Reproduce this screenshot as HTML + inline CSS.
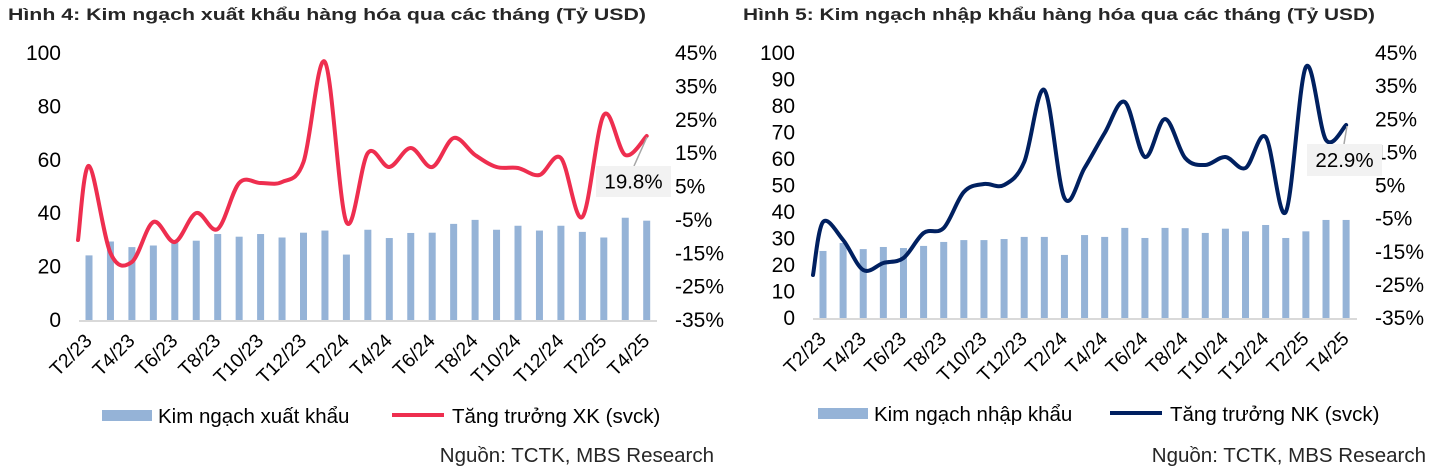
<!DOCTYPE html>
<html><head><meta charset="utf-8"><style>
html,body{margin:0;padding:0;background:#fff;}
svg{display:block;font-family:"Liberation Sans",Arial,sans-serif;}
</style></head><body>
<svg id="s" width="1448" height="466" viewBox="0 0 1448 466" xmlns="http://www.w3.org/2000/svg">
<text x="8" y="20" font-size="17" font-weight="bold" fill="#262626" textLength="638" lengthAdjust="spacingAndGlyphs">Hình 4: Kim ngạch xuất khẩu hàng hóa qua các tháng (Tỷ USD)</text>
<text x="743" y="20" font-size="17" font-weight="bold" fill="#262626" textLength="632" lengthAdjust="spacingAndGlyphs">Hình 5: Kim ngạch nhập khẩu hàng hóa qua các tháng (Tỷ USD)</text>
<g id="g"></g>
<text x="714" y="462" font-size="20.5" text-anchor="end" fill="#262626">Nguồn: TCTK, MBS Research</text>
<text x="1426" y="462" font-size="20.5" text-anchor="end" fill="#262626">Nguồn: TCTK, MBS Research</text>
</svg>
<script>
const NS="http://www.w3.org/2000/svg";
const g=document.getElementById('g');
function el(t,a,txt){const e=document.createElementNS(NS,t);for(const k in a)e.setAttribute(k,a[k]);if(txt!==undefined)e.textContent=txt;g.appendChild(e);return e;}
function smooth(p){let d="M"+p[0][0]+","+p[0][1];for(let i=0;i<p.length-1;i++){const p0=p[i-1]||p[i],p1=p[i],p2=p[i+1],p3=p[i+2]||p2;const t=6;d+=" C"+(p1[0]+(p2[0]-p0[0])/t)+","+(p1[1]+(p2[1]-p0[1])/t)+" "+(p2[0]-(p3[0]-p1[0])/t)+","+(p2[1]-(p3[1]-p1[1])/t)+" "+p2[0]+","+p2[1];}return d;}
const labs=["T2/23","T4/23","T6/23","T8/23","T10/23","T12/23","T2/24","T4/24","T6/24","T8/24","T10/24","T12/24","T2/25","T4/25"];
function chart(o){
  o.lt.forEach((v,i)=>{el('text',{x:o.lx,y:o.y0-(o.y0-o.y100)*v/100+7,'font-size':21,'text-anchor':'end',fill:'#000'},v);});
  const pr=["45%","35%","25%","15%","5%","-5%","-15%","-25%","-35%"];
  pr.forEach((v,i)=>{el('text',{x:o.rx,y:53+i*(o.y0-53)/8+7,'font-size':21,fill:'#000'},v);});
  el('line',{x1:o.ax1,x2:o.ax2,y1:o.y0+1,y2:o.y0+1,stroke:'#d9d9d9','stroke-width':2});
  const sc=(o.y0-o.y100)/100;
  o.bars.forEach((v,i)=>{const x=o.b0+o.bs*i;el('rect',{x:x-3.5,y:o.y0-v*sc,width:7,height:v*sc,fill:'#95b3d7'});});
  const pts=[[o.ls[0],o.ls[1]]];o.line.forEach((y,i)=>pts.push([o.b0+o.bs*i,y]));
  el('path',{d:smooth(pts),fill:'none',stroke:o.col,'stroke-width':4,'stroke-linejoin':'round','stroke-linecap':'round'});
  labs.forEach((l,k)=>{const x=o.b0+o.bs*2*k+4,y=o.y0+22;el('text',{x:x,y:y,'font-size':19.5,'text-anchor':'end',transform:`rotate(-45 ${x} ${y})`,fill:'#000'},l);});
  el('line',{x1:o.lead[0],y1:o.lead[1],x2:o.lead[2],y2:o.lead[3],stroke:'#a6a6a6','stroke-width':1.5});
  el('rect',{x:o.box[0],y:o.box[1],width:o.box[2],height:o.box[3],fill:'#f2f2f2'});
  el('text',{x:o.box[0]+o.box[2]/2,y:o.box[1]+o.box[3]/2+7,'font-size':20.5,'text-anchor':'middle',fill:'#000'},o.boxt);
  el('rect',{x:o.lg[0],y:o.lg[1],width:50,height:11,fill:'#95b3d7'});
  el('text',{x:o.lg[0]+56,y:o.lg[1]+13,'font-size':20.5,fill:'#000'},o.lg1);
  el('line',{x1:o.lg[2],x2:o.lg[2]+52,y1:o.lg[1]+5,y2:o.lg[1]+5,stroke:o.col,'stroke-width':4});
  el('text',{x:o.lg[2]+60,y:o.lg[1]+13,'font-size':20.5,fill:'#000'},o.lg2);
}
chart({lt:[0,20,40,60,80,100],lx:61,rx:675,y0:320,y100:53,ax1:79,ax2:657,b0:89,bs:21.45,
 bars:[24.2,29.4,27.3,27.9,29.1,29.7,32.2,31.2,32.2,30.9,32.7,33.5,24.5,33.8,30.7,32.6,32.7,36,37.5,33.8,35.3,33.5,35.3,33,30.9,38.3,37.2],
 ls:[78,240],line:[166,253,262,222,242,213,229,183,183,182,162,62,222,153,167,148,167,138,155,167,168,175,158,217,115,155,136],
 col:'#ee2e4f',lead:[647,137,634,166],box:[596,166,75,31],boxt:'19.8%',
 lg:[102,410,392],lg1:'Kim ngạch xuất khẩu',lg2:'Tăng trưởng XK (svck)'});
chart({lt:[0,10,20,30,40,50,60,70,80,90,100],lx:795,rx:1375,y0:318,y100:53,ax1:813,ax2:1357,b0:823,bs:20.12,
 bars:[25.3,28.3,26,26.8,26.4,27.2,28.7,29.4,29.4,29.8,30.6,30.6,23.8,31.3,30.6,34,30.2,34,33.9,32.1,33.7,32.7,35.1,30.2,32.7,37,37],
 ls:[813,275],line:[222,240,270,263,258,233,228,192,184,185,162,90,198,168,133,102,157,119,158,165,157,168,137,212,67,140,125],
 col:'#002060',lead:[1347,126,1344,144],box:[1307,144,75,32],boxt:'22.9%',
 lg:[818,408,1110],lg1:'Kim ngạch nhập khẩu',lg2:'Tăng trưởng NK (svck)'});
</script>
</body></html>
